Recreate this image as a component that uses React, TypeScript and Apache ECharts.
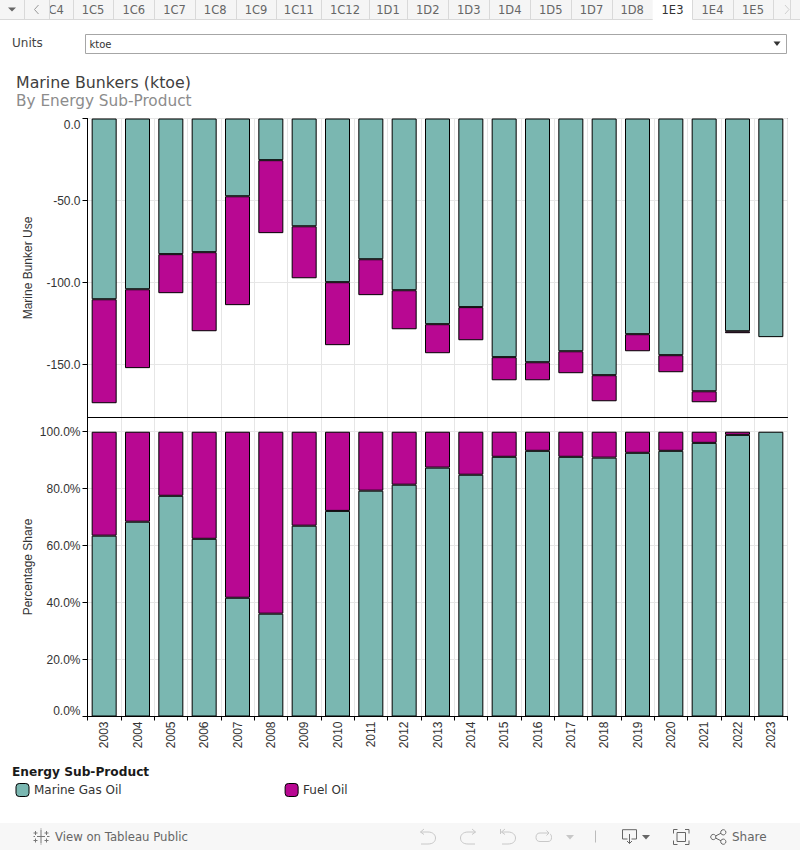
import React, { useEffect, useRef } from "react";
import * as echarts from "echarts";

const years = ["2003","2004","2005","2006","2007","2008","2009","2010","2011","2012","2013","2014","2015","2016","2017","2018","2019","2020","2021","2022","2023"];
const marineGasOilUse = [-110.2,-104.1,-82.7,-81.5,-47.4,-25.4,-65.7,-99.8,-85.8,-104.7,-125.4,-115.0,-145.5,-148.6,-141.9,-156.5,-131.5,-144.3,-166.3,-129.7,-133.3];
const fuelOilUse = [-63.4,-48.1,-23.8,-48.2,-66.4,-44.5,-31.7,-38.4,-21.9,-23.8,-17.7,-20.2,-14.1,-11.0,-13.4,-15.9,-10.4,-10.4,-6.7,-1.2,null];
const marineGasOilShare = [63.5,68.4,77.5,62.4,41.7,36.1,67.0,72.2,79.3,81.4,87.4,84.9,91.2,93.3,91.2,90.9,92.6,93.3,96.1,98.9,100];
const fuelOilShare = [36.5,31.6,22.5,37.6,58.3,63.9,33.0,27.8,20.7,18.6,12.6,15.1,8.8,6.7,8.8,9.1,7.4,6.7,3.9,1.1,null];
const useTicks = [-150,-100,-50,0];
const shareTicks = [0,20,40,60,80,100];
const tabLabels = ["1C4","1C5","1C6","1C7","1C8","1C9","1C11","1C12","1D1","1D2","1D3","1D4","1D5","1D7","1D8","1E3","1E4","1E5"];
const activeTab = "1E3";
const tabEdges = [32.1,72.7,113.3,154.3,194.7,235.7,276.3,321.3,368.7,407.3,448.3,489.3,530.3,571.3,611.7,652.7,692.3,732.7,773.3];

const TEAL = "#7ab7b1";
const MAGENTA = "#b80892";
const UI = "DejaVu Sans";
const AXIS = "Liberation Sans";

const icons: Record<string, string> = {
  iconUndo: "M424 829 L420.5 832 L424 834.5 M420.5 832 L428 832 C433 832 435.5 835 435.5 838 C435.5 841.5 433 844 428 844 L421 844",
  iconRedo: "M472 829 L475.5 832 L472 834.5 M475.5 832 L468 832 C463 832 460.5 835 460.5 838 C460.5 841.5 463 844 468 844 L475 844",
  iconRevert: "M500.5 829 L500.5 834 M505 829 L501.5 832 L505 834.5 M501.5 832 L508 832 C513 832 515.5 835 515.5 838 C515.5 841.5 513 844 508 844 L502 844",
  iconRefresh: "M548 833 L540 833 C537 833 536 835 536 837.5 C536 840 537.5 841.5 540 841.5 L548 841.5 C550.5 841.5 551.5 840 551.5 837.5 C551.5 835.5 551 834.5 550 834 M546.5 830.5 L549 833 L546.5 835.5",
  iconDownload: "M627.5 839 L622.5 839 L622.5 829.7 L636.5 829.7 L636.5 839 L631.5 839 M629.5 834 L629.5 843.5 M627 841 L629.5 843.5 L632 841",
  iconFull: "M677.5 829.5 L673.5 829.5 L673.5 833.5 M685 829.5 L689 829.5 L689 833.5 M677.5 844.5 L673.5 844.5 L673.5 840.5 M685 844.5 L689 844.5 L689 840.5 M677 832.5 L685.5 832.5 L685.5 841.5 L677 841.5 Z",
  iconLogo: "M41 830 L41 843 M37 836.5 L45 836.5 M41 828.5 L41 829.5 M35.5 831 L35.5 835 M33.5 833 L37.5 833 M46.5 831 L46.5 835 M44.5 833 L48.5 833 M35.5 838.5 L35.5 842.5 M33.5 840.5 L37.5 840.5 M46.5 838.5 L46.5 842.5 M44.5 840.5 L48.5 840.5 M33.5 836.5 L35 836.5 M47 836.5 L49.5 836.5 M41 843.5 L41 844.5",
};
Object.keys(icons).forEach((k) => echarts.graphic.registerShape(k, echarts.graphic.extendPath(icons[k] as any, {}) as any));

const txt = (text: string, x: number, y: number, fontSize: number, fill: string, extra: any = {}) => ({
  type: "text", x, y, silent: true,
  style: { text, fontFamily: UI, fontSize, fill, align: "left", verticalAlign: "middle", ...extra },
});
const rect = (x: number, y: number, width: number, height: number, fill: string, stroke?: string) => ({
  type: "rect", silent: true, shape: { x, y, width, height },
  style: { fill, stroke: stroke || "none", lineWidth: 1 },
});
const line = (x1: number, y1: number, x2: number, y2: number, stroke: string) => ({
  type: "line", silent: true, shape: { x1, y1, x2, y2 }, style: { stroke, lineWidth: 1 },
});
const icon = (name: string, stroke: string) => ({
  type: name, x: 0, y: 0, silent: true, style: { fill: "none", stroke, lineWidth: 1 },
});
const tri = (x1: number, x2: number, y1: number, y2: number, fill: string) => ({
  type: "polygon", silent: true, shape: { points: [[x1, y1], [x2, y1], [(x1 + x2) / 2, y2]] }, style: { fill },
});

function chrome(): any[] {
  const TAB_BG = "#f5f5f5", TAB_LINE = "#d9d9d9";
  const els: any[] = [];
  els.push(rect(0, 0, 800, 19, TAB_BG));
  els.push(line(0, 19.5, 800, 19.5, TAB_LINE));
  tabLabels.forEach((label, i) => {
    const a = tabEdges[i], b = tabEdges[i + 1];
    const active = label === activeTab;
    if (active) els.push(rect(a, 0, b - a, 20.5, "#ffffff"));
    els.push(txt(label, (a + b) / 2, 9.5, 11.5, active ? "#333333" : "#666666", { align: "center" }));
    els.push(line(Math.round(b) + 0.5, 0, Math.round(b) + 0.5, 19, TAB_LINE));
  });
  els.push(rect(0, 0, 49, 19, TAB_BG));
  els.push(line(24.5, 0, 24.5, 19, TAB_LINE));
  els.push(line(49.5, 0, 49.5, 19, TAB_LINE));
  els.push(tri(8, 16, 7.5, 11.5, "#666666"));
  els.push({ type: "polyline", silent: true, shape: { points: [[38.5, 5], [34.5, 9.5], [38.5, 14]] }, style: { fill: "none", stroke: "#999999", lineWidth: 1 } });
  els.push(line(790.5, 0, 790.5, 19, TAB_LINE));
  els.push({ type: "polyline", silent: true, shape: { points: [[785, 5], [789, 9.5], [785, 14]] }, style: { fill: "none", stroke: "#d0d0d0", lineWidth: 1 } });

  els.push(txt("Units", 12, 43, 12, "#444444"));
  els.push(rect(85.5, 34.5, 701, 19, "#ffffff", "#a6a6a6"));
  els.push(txt("ktoe", 89.5, 44.5, 10, "#333333"));
  els.push(tri(773.5, 780.5, 41.5, 46, "#333333"));

  els.push(txt("Marine Bunkers (ktoe)", 16, 82, 15.8, "#404040"));
  els.push(txt("By Energy Sub-Product", 16, 100.5, 15.3, "#8c8c8c"));
  els.push(txt("Energy Sub-Product", 12, 771.5, 12.2, "#1a1a1a", { fontWeight: "bold" }));

  els.push(rect(0, 823, 800, 27, "#f7f7f7"));
  els.push(icon("iconLogo", "#777777"));
  els.push(txt("View on Tableau Public", 55, 836.5, 11.7, "#666666"));
  els.push(icon("iconUndo", "#c8c8c8"));
  els.push(icon("iconRedo", "#c8c8c8"));
  els.push(icon("iconRevert", "#c8c8c8"));
  els.push(icon("iconRefresh", "#c8c8c8"));
  els.push(tri(566, 574, 835, 839.5, "#c8c8c8"));
  els.push(line(595.5, 830.5, 595.5, 842.5, "#bbbbbb"));
  els.push(icon("iconDownload", "#666666"));
  els.push(tri(642, 650, 835, 839.5, "#666666"));
  els.push(icon("iconFull", "#666666"));
  els.push(line(715.5, 836, 721, 833.2, "#666666"));
  els.push(line(715.5, 838, 721, 840.8, "#666666"));
  [[723.3, 832.3], [713.3, 837], [723.3, 841.7]].forEach(([cx, cy]) =>
    els.push({ type: "circle", silent: true, shape: { cx, cy, r: 2.6 }, style: { fill: "none", stroke: "#666666", lineWidth: 1 } })
  );
  els.push(txt("Share", 732, 837, 12, "#666666"));
  return els;
}

const GRID_X = { left: 87.5, width: 700 };
const barStyle = (color: string) => ({ color, borderColor: "#000000", borderWidth: 1 });

const yAxisBase = (name: string, gridIndex: number, customValues: number[], fmt: (v: number) => string) => ({
  type: "value", gridIndex, name, nameLocation: "middle", nameGap: 54, nameMoveOverlap: false,
  nameTextStyle: { fontFamily: AXIS, fontSize: 12, color: "#333333" },
  axisLine: { show: true, onZero: false, lineStyle: { color: "#000000", width: 1 } },
  axisTick: { show: true, length: 5, customValues, lineStyle: { color: "#000000", width: 1 } },
  axisLabel: { show: true, margin: 7, customValues, formatter: fmt, fontFamily: AXIS, fontSize: 12, color: "#333333" },
  splitLine: { show: true, lineStyle: { color: "#e6e6e6", width: 1 } },
});

const xAxisBase = (gridIndex: number, labelled: boolean) => ({
  type: "category", gridIndex, data: years, boundaryGap: true,
  position: "bottom",
  axisLine: { show: true, onZero: false, lineStyle: { color: "#000000", width: 1 } },
  axisTick: { show: labelled, length: 4, interval: 0, lineStyle: { color: "#000000", width: 1 } },
  axisLabel: { show: labelled, rotate: 90, margin: 5, interval: 0, fontFamily: AXIS, fontSize: 12, color: "#333333" },
  splitLine: { show: true, interval: 0, lineStyle: { color: "#e6e6e6", width: 1 } },
});

const option: any = {
  animation: false,
  backgroundColor: "#ffffff",
  grid: [
    { ...GRID_X, top: 118.5, height: 299, show: true, borderColor: "#000000", borderWidth: 1, backgroundColor: "transparent" },
    { ...GRID_X, top: 417.5, height: 299, show: true, borderColor: "#000000", borderWidth: 1, backgroundColor: "transparent" },
  ],
  xAxis: [xAxisBase(0, false), xAxisBase(1, true)],
  yAxis: [
    { ...yAxisBase("Marine Bunker Use", 0, useTicks, (v: number) => v.toFixed(1)), min: -182.3, max: 0,
      axisLabel: { ...yAxisBase("", 0, useTicks, (v: number) => v.toFixed(1)).axisLabel, verticalAlignMaxLabel: "top" } },
    { ...yAxisBase("Percentage Share", 1, shareTicks, (v: number) => v.toFixed(1) + "%"), min: 0, max: 105,
      axisLabel: { ...yAxisBase("", 1, shareTicks, (v: number) => v.toFixed(1) + "%").axisLabel, verticalAlignMinLabel: "bottom" } },
  ],
  legend: {
    show: true, left: 15.5, top: 783, padding: 0, orient: "horizontal", itemWidth: 13, itemHeight: 13, itemGap: 163,
    icon: "roundRect", selectedMode: false,
    itemStyle: { borderColor: "#000000", borderWidth: 1 },
    data: ["Marine Gas Oil", "Fuel Oil"],
    textStyle: { fontFamily: UI, fontSize: 12, color: "#333333" },
  },
  series: [
    { name: "Marine Gas Oil", type: "bar", stack: "use", xAxisIndex: 0, yAxisIndex: 0, barWidth: 25, data: marineGasOilUse, itemStyle: barStyle(TEAL) },
    { name: "Fuel Oil", type: "bar", stack: "use", xAxisIndex: 0, yAxisIndex: 0, barWidth: 25, data: fuelOilUse, itemStyle: barStyle(MAGENTA) },
    { name: "Marine Gas Oil", type: "bar", stack: "share", xAxisIndex: 1, yAxisIndex: 1, barWidth: 25, data: marineGasOilShare, itemStyle: barStyle(TEAL) },
    { name: "Fuel Oil", type: "bar", stack: "share", xAxisIndex: 1, yAxisIndex: 1, barWidth: 25, data: fuelOilShare, itemStyle: barStyle(MAGENTA) },
  ],
  graphic: { elements: chrome() },
};

export default function App() {
  const ref = useRef<HTMLDivElement>(null);
  useEffect(() => {
    const chart = echarts.init(ref.current!, undefined, { renderer: "svg" });
    chart.setOption(option);
    return () => chart.dispose();
  }, []);
  return <div ref={ref} style={{ position: "absolute", left: 0, top: 0, width: 800, height: 850 }} />;
}
